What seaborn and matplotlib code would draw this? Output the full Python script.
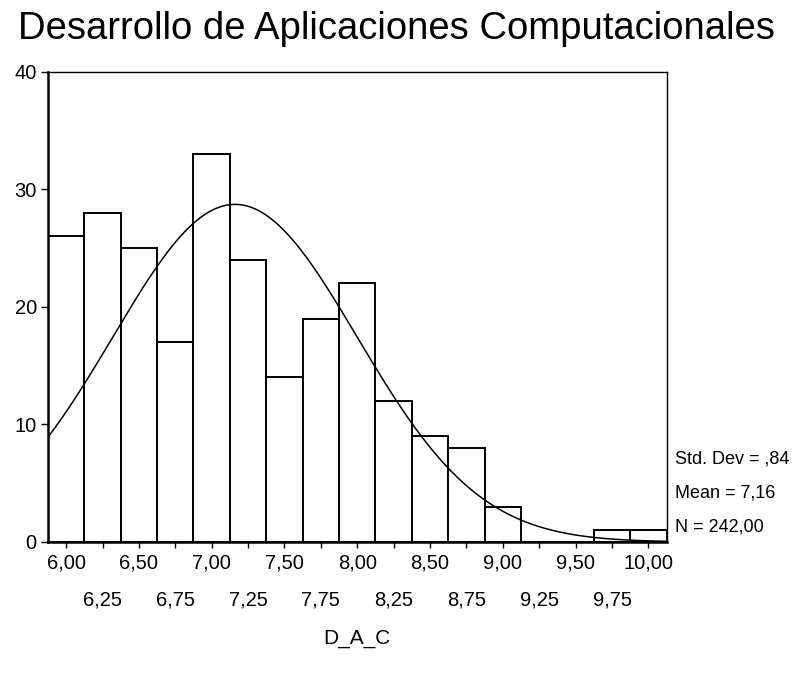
import numpy as np
import pandas as pd
import matplotlib
matplotlib.use("Agg")
import matplotlib.pyplot as plt
import seaborn as sns

# histogram of D_A_C, bins 0.25 wide centred on 6,00 ... 10,00
bin_centers = [6.00, 6.25, 6.50, 6.75, 7.00, 7.25, 7.50, 7.75, 8.00,
               8.25, 8.50, 8.75, 9.00, 9.25, 9.50, 9.75, 10.00]
counts = [26, 28, 25, 17, 33, 24, 14, 19, 22, 12, 9, 8, 3, 0, 0, 1, 1]

# summary stats printed by SPSS
std_dev = 0.84
mean = 7.16
n_total = 242
bin_width = 0.25

sns.set_style("white")
plt.rcParams['font.family'] = ['Liberation Sans', 'DejaVu Sans']
plt.rcParams['text.color'] = 'black'
plt.rcParams['axes.labelcolor'] = 'black'
plt.rcParams['xtick.color'] = 'black'
plt.rcParams['ytick.color'] = 'black'

fig = plt.figure(figsize=(8.12, 6.79), dpi=100)
ax = fig.add_axes([0.059, 0.2018, 0.762, 0.6922])

df = pd.DataFrame({'D_A_C': bin_centers, 'count': counts})
edges = list(np.arange(bin_centers[0] - bin_width / 2, bin_centers[-1] + bin_width, bin_width))
sns.histplot(data=df, x='D_A_C', weights='count', bins=edges, color='white',
             edgecolor='black', linewidth=1.4, alpha=1, ax=ax)

# normal curve scaled to counts
xs = np.linspace(edges[0], edges[-1], 300)
ys = n_total * bin_width / (std_dev * np.sqrt(2 * np.pi)) * np.exp(-0.5 * ((xs - mean) / std_dev) ** 2)
sns.lineplot(x=xs, y=ys, color='black', linewidth=1.1, ax=ax)

ax.set_xlim(edges[0], edges[-1])
ax.set_ylim(0, 40)

major = bin_centers[0::2]
minor = bin_centers[1::2]
ax.set_xticks(major)
ax.set_xticklabels([f"{v:.2f}".replace('.', ',') for v in major])
ax.set_xticks(minor, minor=True)
ax.set_xticklabels([f"{v:.2f}".replace('.', ',') for v in minor], minor=True)
ax.set_yticks([0, 10, 20, 30, 40])

ax.tick_params(axis='x', which='major', direction='out', length=4, width=1,
               labelsize=14.5, pad=4, bottom=True)
ax.tick_params(axis='x', which='minor', direction='out', length=4, width=1,
               labelsize=14.5, pad=31, bottom=True)
ax.tick_params(axis='y', direction='out', length=5, width=1, labelsize=14.5, pad=3, left=True)

for side in ['left', 'bottom']:
    ax.spines[side].set_linewidth(1.8)
for side in ['top', 'right']:
    ax.spines[side].set_linewidth(1.0)
for s in ax.spines.values():
    s.set_color('black')

ax.set_ylabel('')
ax.set_xlabel('D_A_C', fontsize=15, labelpad=14)

fig.text(0.488, 0.958, 'Desarrollo de Aplicaciones Computacionales',
         ha='center', va='center', fontsize=27.5)

stats = ["Std. Dev = ,84",
         f"Mean = {mean:.2f}".replace('.', ','),
         f"N = {n_total:.2f}".replace('.', ',')]
for i, line in enumerate(stats):
    fig.text(0.831, 1 - (459 + 34 * i) / 679, line, ha='left', va='center', fontsize=13)

fig.savefig('out.png', dpi=100)
